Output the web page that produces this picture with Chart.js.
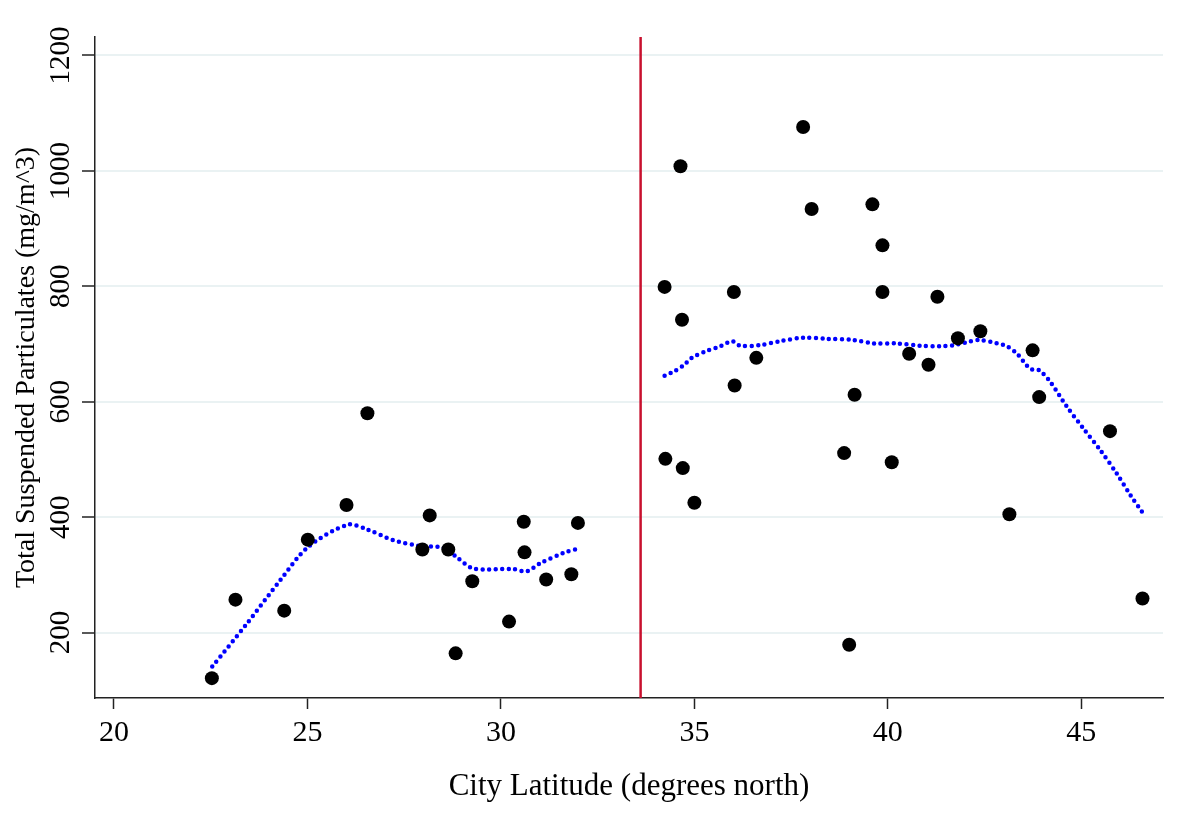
<!DOCTYPE html>
<html>
<head>
<meta charset="utf-8">
<title>TSP vs latitude</title>
<script src="https://cdn.jsdelivr.net/npm/chart.js@4.4.1/dist/chart.umd.min.js"></script>
<style>
  html, body { margin: 0; padding: 0; background: #fff; }
  #wrap { width: 1183px; height: 836px; }
</style>
</head>
<body>
<div id="wrap"><canvas id="grafica"></canvas></div>
<script>
// Ciudades al sur del corte
const latSur = [22.53, 23.14, 24.40, 25.01, 26.01, 26.55, 27.97, 28.16, 28.64, 28.83, 29.26, 30.21, 30.59, 30.61, 31.17, 31.82, 31.99];
const tspSur = [121, 257, 238, 361, 421, 580, 344, 403, 344, 164, 289, 219, 392, 339, 292, 301, 390];

// Ciudades al norte del corte
const latNorte = [34.23, 34.25, 34.64, 34.68, 34.70, 35.00, 36.02, 36.04, 36.60, 37.81, 38.03, 38.87, 39.00, 39.14,
                  39.60, 39.86, 39.86, 40.10, 40.55, 41.05, 41.28, 41.81, 42.39, 43.14, 43.74, 43.91, 45.74, 46.58];
const tspNorte = [799, 501, 1008, 742, 485, 425, 790, 628, 676, 1076, 934, 511, 179, 612,
                  942, 871, 790, 495, 683, 664, 782, 710, 722, 405, 689, 608, 549, 259];

// Curvas suavizadas (lowess)
const suaveSurX = [22.54, 23.43, 24.29, 25.01, 26.04, 26.53, 27.22, 27.91, 28.51, 28.85, 29.29, 30.32, 30.67, 31.01, 31.62, 32.02];
const suaveSurY = [141, 215, 290, 348, 387, 379, 360, 350, 347, 331, 311, 310, 306, 320, 338, 346];

const suaveNorteX = [34.23, 34.46, 34.72, 34.93, 35.32, 35.67, 35.97, 36.18, 36.70, 37.22, 37.82, 38.42, 39.11, 39.63,
                     40.23, 40.84, 41.35, 41.70, 42.04, 42.35, 42.82, 43.08, 43.34, 43.68, 43.90, 44.20, 44.63,
                     45.06, 45.49, 45.92, 46.27, 46.58];
const suaveNorteY = [645, 652, 663, 676, 688, 696, 705, 697, 698, 705, 711, 709, 707, 701,
                     701, 697, 696, 698, 703, 707, 701, 696, 683, 657, 655, 634, 591,
                     553, 516, 475, 438, 408];

const corte = 33.61;

const xTicks = [20, 25, 30, 35, 40, 45];
const yTicks = [200, 400, 600, 800, 1000, 1200];
const xMin = 19.51, xMax = 47.11;
const yMin = 86.6, yMax = 1232;

const FUENTE = "'Liberation Serif', 'Times New Roman', serif";

function pares(xs, ys) {
    return xs.map((x, i) => ({ x: x, y: ys[i] }));
}

const ctx = document.getElementById('grafica');

new Chart(ctx, {
    type: 'scatter',
    data: {
        datasets: [
            {
                label: 'Sur',
                data: pares(latSur, tspSur),
                backgroundColor: '#000',
                borderWidth: 0,
                pointRadius: 7,
                pointHoverRadius: 7,
                order: 1
            },
            {
                label: 'Norte',
                data: pares(latNorte, tspNorte),
                backgroundColor: '#000',
                borderWidth: 0,
                pointRadius: 7,
                pointHoverRadius: 7,
                order: 1
            },
            {
                type: 'line',
                label: 'Lowess sur',
                data: pares(suaveSurX, suaveSurY),
                borderColor: '#0000ff',
                borderWidth: 4.5,
                borderDash: [0, 6.5],
                borderCapStyle: 'round',
                pointRadius: 0,
                fill: false,
                tension: 0.3,
                order: 2
            },
            {
                type: 'line',
                label: 'Lowess norte',
                data: pares(suaveNorteX, suaveNorteY),
                borderColor: '#0000ff',
                borderWidth: 4.5,
                borderDash: [0, 6.5],
                borderCapStyle: 'round',
                pointRadius: 0,
                fill: false,
                tension: 0.3,
                order: 2
            },
            {
                type: 'line',
                label: 'Corte',
                data: [{ x: corte, y: yMin }, { x: corte, y: yMax }],
                borderColor: '#c8102e',
                borderWidth: 2.5,
                pointRadius: 0,
                fill: false,
                order: 3
            }
        ]
    },
    options: {
        responsive: true,
        maintainAspectRatio: false,
        animation: false,
        layout: { padding: { top: 37, right: 20, left: 0, bottom: 0 } },
        plugins: {
            legend: { display: false },
            tooltip: { enabled: false }
        },
        scales: {
            x: {
                type: 'linear',
                min: xMin,
                max: xMax,
                afterBuildTicks: (eje) => { eje.ticks = xTicks.map(v => ({ value: v })); },
                afterFit: (eje) => { eje.height = 138; },
                grid: {
                    drawOnChartArea: false,
                    drawTicks: true,
                    tickLength: 11,
                    tickColor: '#222',
                    tickWidth: 1.5
                },
                border: { display: true, color: '#222', width: 1.5 },
                ticks: {
                    color: '#000',
                    padding: 6,
                    maxRotation: 0,
                    callback: (v) => String(v),
                    font: { family: FUENTE, size: 30 }
                },
                title: {
                    display: true,
                    text: 'City Latitude (degrees north)',
                    color: '#000',
                    font: { family: FUENTE, size: 31, lineHeight: 1 },
                    padding: { top: 0, bottom: 34 }
                }
            },
            y: {
                type: 'linear',
                min: yMin,
                max: yMax,
                afterBuildTicks: (eje) => { eje.ticks = yTicks.map(v => ({ value: v })); },
                afterFit: (eje) => { eje.width = 95; },
                grid: {
                    color: '#eaf2f3',
                    lineWidth: 2,
                    drawTicks: true,
                    tickLength: 13,
                    tickColor: '#222',
                    tickWidth: 1.5
                },
                border: { display: true, color: '#222', width: 1.5 },
                ticks: {
                    color: '#000',
                    minRotation: 90,
                    maxRotation: 90,
                    crossAlign: 'center',
                    padding: -8,
                    callback: (v) => String(v),
                    font: { family: FUENTE, size: 29 }
                },
                title: {
                    display: true,
                    text: 'Total Suspended Particulates (mg/m^3)',
                    color: '#000',
                    font: { family: FUENTE, size: 28, lineHeight: 1 },
                    padding: { top: 13, bottom: 0 }
                }
            }
        }
    }
});
</script>
</body>
</html>
